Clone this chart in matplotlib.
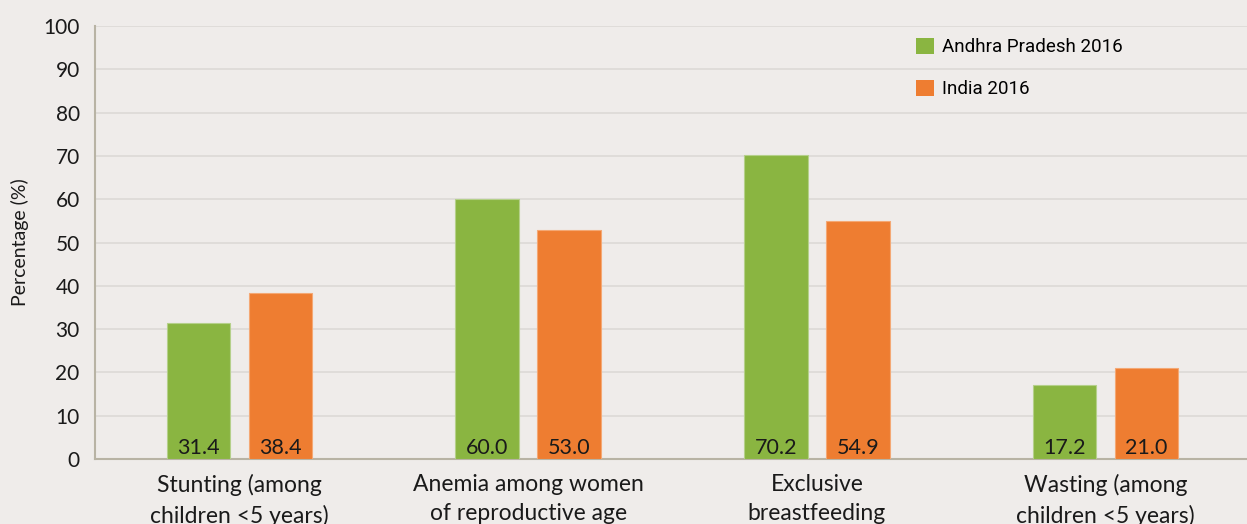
import numpy as np
import matplotlib.pyplot as plt
from matplotlib.patches import Patch

categories = ['Stunting (among\nchildren <5 years)', 'Anemia among women\nof reproductive age',
              'Exclusive\nbreastfeeding', 'Wasting (among\nchildren <5 years)']
andhra = [31.4, 60.0, 70.2, 17.2]
india = [38.4, 53.0, 54.9, 21.0]
series_names = ['Andhra Pradesh 2016', 'India 2016']

bg = '#efecea'
green = '#8ab541'
orange = '#ee7d31'

plt.rcParams['font.family'] = ['Lato', 'DejaVu Sans']

fig = plt.figure(figsize=(12.47, 5.24), dpi=100, facecolor=bg)
ax = fig.add_axes([0.0762, 0.124, 0.9238, 0.826], facecolor=bg)

x = np.arange(len(categories))
w = 0.22
off = 0.142
b1 = ax.bar(x - off, andhra, w, color=green, edgecolor='#b5d08a', linewidth=0.8, zorder=3)
b2 = ax.bar(x + off, india, w, color=orange, edgecolor='#f4a874', linewidth=0.8, zorder=3)

for bars, vals in [(b1, andhra), (b2, india)]:
    for b, v in zip(bars, vals):
        ax.text(b.get_x() + b.get_width() / 2, 0.2, f'{v:.1f}', ha='center', va='bottom',
                fontsize=15.5, color='#1a1a1a', zorder=4)

ax.set_xlim(-0.5, 3.49)
ax.set_ylim(0, 100)
ax.set_yticks(range(0, 101, 10))
ax.set_xticks(x)
ax.set_xticklabels(categories, fontsize=16.5, color='#1a1a1a', linespacing=1.45)
ax.tick_params(axis='x', length=0, pad=11)
ax.tick_params(axis='y', length=0, pad=11, labelsize=15, labelcolor='#1a1a1a')
ax.set_ylabel('Percentage (%)', fontsize=14, color='#1a1a1a', labelpad=10)

ax.grid(axis='y', color='#dcd9d6', linewidth=1.2, zorder=0)
for s in ['top', 'right']:
    ax.spines[s].set_visible(False)
ax.spines['left'].set_color('#b8b3a4')
ax.spines['bottom'].set_color('#b8b3a4')
ax.spines['left'].set_linewidth(1.5)
ax.spines['bottom'].set_linewidth(1.5)

handles = [Patch(facecolor=green), Patch(facecolor=orange)]
leg = ax.legend(handles, series_names, loc='upper left', bbox_to_anchor=(0.698, 1.012),
                frameon=False, handlelength=0.95, handleheight=0.95, handletextpad=0.42,
                labelspacing=1.25,
                prop={'family': ['Roboto', 'DejaVu Sans'], 'size': 13.5})

fig.savefig('out.png', dpi=100, facecolor=bg)
